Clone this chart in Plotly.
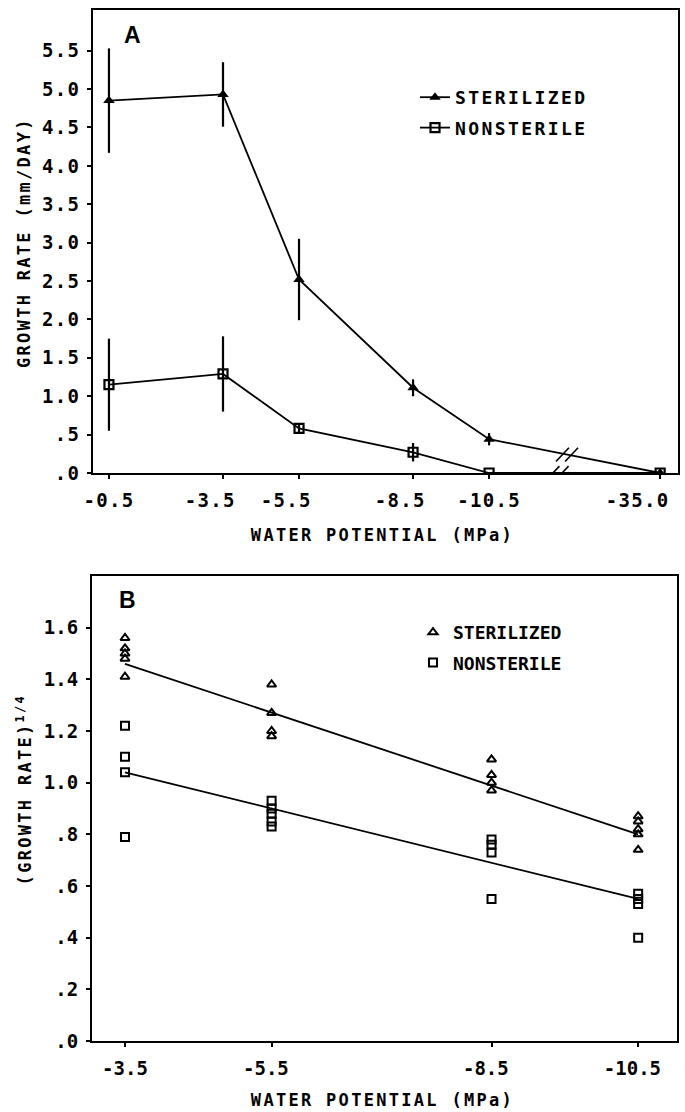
import plotly.graph_objects as go

# ---------------- Panel A data ----------------
wp_labels_A = ["-0.5", "-3.5", "-5.5", "-8.5", "-10.5", "-35.0"]
wp_values_A = [-0.5, -3.5, -5.5, -8.5, -10.5, -35.0]
ster_A = [4.85, 4.93, 2.52, 1.11, 0.44, 0.0]
ster_A_err = [0.68, 0.42, 0.53, 0.11, 0.08, 0.0]
non_A = [1.15, 1.29, 0.58, 0.27, 0.0, 0.0]
non_A_err = [0.60, 0.49, 0.05, 0.12, 0.0, 0.0]
BREAK_POS = 15.0  # broken axis position used for -35.0


def axis_pos(v):
    return abs(v) if abs(v) <= 10.5 else BREAK_POS


pos_A = [axis_pos(v) for v in wp_values_A]

# ---------------- Panel B data ----------------
ster_B_x = [-3.5] * 5 + [-5.5] * 4 + [-8.5] * 4 + [-10.5] * 5
ster_B_y = [1.56, 1.52, 1.50, 1.48, 1.41,
            1.38, 1.27, 1.20, 1.18,
            1.09, 1.03, 1.00, 0.97,
            0.87, 0.85, 0.82, 0.80, 0.74]
non_B_x = [-3.5] * 4 + [-5.5] * 5 + [-8.5] * 4 + [-10.5] * 4
non_B_y = [1.22, 1.10, 1.04, 0.79,
           0.93, 0.90, 0.88, 0.85, 0.83,
           0.78, 0.76, 0.73, 0.55,
           0.57, 0.55, 0.53, 0.40]
fit_x = [-3.5, -10.5]
ster_fit = [1.46, 0.80]
non_fit = [1.04, 0.55]
wp_ticks_B = [-3.5, -5.5, -8.5, -10.5]
wp_labels_B = ["-3.5", "-5.5", "-8.5", "-10.5"]

W, H = 685, 1112
FONT = "DejaVu Sans Mono"
TICKFONT = dict(family=FONT, size=19, color="black", weight="bold")
NB = "\u00a0"
# plotter labels sit slightly left of their ticks
pad_A = [0, 2, 2, 2, 0, 0]
pad_B = [0, 1, 1, 1]
ticktext_A = [t + NB * p for t, p in zip(wp_labels_A, pad_A)]
ticktext_A[-1] = ""  # last label (right edge) drawn as an annotation below
ticktext_B = [t + NB * p for t, p in zip(wp_labels_B, pad_B)]

fig = go.Figure()

# Panel A traces
fig.add_trace(go.Scatter(
    x=pos_A, y=ster_A, mode="lines+markers", name="STERILIZED",
    line=dict(color="black", width=1.8),
    marker=dict(symbol="triangle-up", size=10, color="black"),
    error_y=dict(type="data", array=ster_A_err, color="black", thickness=2.2, width=0),
    xaxis="x", yaxis="y", legend="legend", legendgroup="a1"))
fig.add_trace(go.Scatter(
    x=pos_A, y=non_A, mode="lines+markers", name="NONSTERILE",
    line=dict(color="black", width=1.8),
    marker=dict(symbol="square-open", size=9, color="black", line=dict(width=2.2)),
    error_y=dict(type="data", array=non_A_err, color="black", thickness=2.2, width=0),
    xaxis="x", yaxis="y", legend="legend", legendgroup="a2"))

# Panel B traces
fig.add_trace(go.Scatter(
    x=ster_B_x, y=ster_B_y, mode="markers", name="STERILIZED",
    marker=dict(symbol="triangle-up-open", size=8, color="black", line=dict(width=2)),
    xaxis="x2", yaxis="y2", legend="legend2", legendgroup="b1"))
fig.add_trace(go.Scatter(
    x=non_B_x, y=non_B_y, mode="markers", name="NONSTERILE",
    marker=dict(symbol="square-open", size=8, color="black", line=dict(width=2)),
    xaxis="x2", yaxis="y2", legend="legend2", legendgroup="b2"))
fig.add_trace(go.Scatter(
    x=fit_x, y=ster_fit, mode="lines", line=dict(color="black", width=1.8),
    showlegend=False, xaxis="x2", yaxis="y2"))
fig.add_trace(go.Scatter(
    x=fit_x, y=non_fit, mode="lines", line=dict(color="black", width=1.8),
    showlegend=False, xaxis="x2", yaxis="y2"))

axis_common = dict(showline=True, linecolor="black", linewidth=2, mirror=True,
                   ticks="outside", ticklen=4, tickwidth=2, tickcolor="black",
                   showgrid=False, zeroline=False, tickfont=TICKFONT,
                   automargin=False, ticklabeloverflow="allow")

LEGFONT = dict(family=FONT, size=18, color="black", weight="bold")

fig.update_layout(
    width=W, height=H, margin=dict(l=0, r=0, t=0, b=0),
    paper_bgcolor="white", plot_bgcolor="white",
    xaxis=dict(domain=[93 / W, 678 / W], anchor="y", range=[0.08, 15.47],
               tickvals=pos_A, ticktext=ticktext_A, ticklabelstandoff=5, **axis_common),
    yaxis=dict(domain=[1 - 473 / H, 1 - 10 / H], anchor="x", range=[0, 6.03],
               tickvals=[i * 0.5 for i in range(12)],
               ticktext=[".0", ".5", "1.0", "1.5", "2.0", "2.5", "3.0", "3.5",
                         "4.0", "4.5", "5.0", "5.5"], ticklabelstandoff=3, **axis_common),
    xaxis2=dict(domain=[92 / W, 677 / W], anchor="y2", range=[-3.05, -11.03],
                tickvals=wp_ticks_B, ticktext=ticktext_B, ticklabelstandoff=5, **axis_common),
    yaxis2=dict(domain=[1 - 1041 / H, 1 - 576 / H], anchor="x2", range=[0, 1.8],
                tickvals=[i * 0.2 for i in range(9)],
                ticktext=[".0", ".2", ".4", ".6", ".8", "1.0", "1.2", "1.4", "1.6"],
                ticklabelstandoff=4, **axis_common),
    legend=dict(x=415 / W, y=1 - 79 / H, xanchor="left", yanchor="top",
                font=LEGFONT, itemwidth=30,
                tracegroupgap=4, bgcolor="rgba(0,0,0,0)"),
    legend2=dict(x=413 / W, y=1 - 614 / H, xanchor="left", yanchor="top",
                 font=LEGFONT, itemwidth=30,
                 tracegroupgap=4, bgcolor="rgba(0,0,0,0)"),
)

TFONT = dict(family=FONT, size=17, color="black", weight="bold")
ann = [
    dict(text="A", x=132 / W, y=1 - 35 / H, font=dict(family="Liberation Sans", size=23, color="black", weight="bold")),
    dict(text="B", x=127 / W, y=1 - 600 / H, font=dict(family="Liberation Sans", size=23, color="black", weight="bold")),
    dict(text="WATER POTENTIAL (MPa)", x=382 / W, y=1 - 535 / H, font=TFONT),
    dict(text="WATER POTENTIAL (MPa)", x=382 / W, y=1 - 1100 / H, font=TFONT),
    dict(text="GROWTH RATE (mm/DAY)", x=24 / W, y=1 - 243 / H, textangle=-90, font=TFONT),
    dict(text="(GROWTH RATE)<sup>1/4</sup>", x=24 / W, y=1 - 790 / H, textangle=-90, font=TFONT),
]
for a in ann:
    fig.add_annotation(xref="paper", yref="paper", showarrow=False, xanchor="center", yanchor="middle", **a)

# right-most tick label of panel A (sits left of its tick, near the figure edge)
fig.add_annotation(xref="paper", yref="paper", showarrow=False, xanchor="right", yanchor="middle",
                   x=668 / W, y=1 - 500 / H, text=wp_labels_A[-1], font=TICKFONT)


# Axis-break marks (double slashes) on panel A
def slash_pair(xc, yc):
    dx, dy = 0.17, 0.09
    for off in (-0.12, 0.12):
        fig.add_shape(type="line", xref="x", yref="y",
                      x0=xc + off - dx, y0=yc - dy, x1=xc + off + dx, y1=yc + dy,
                      line=dict(color="black", width=1.6))


line_y_at_break = ster_A[4] + (ster_A[5] - ster_A[4]) * (12.55 - pos_A[4]) / (pos_A[5] - pos_A[4])
slash_pair(12.55, line_y_at_break)
slash_pair(12.3, 0.0)

post = """
document.body.style.margin = '0';
document.body.style.padding = '0';
var gd = document.getElementById('{plot_id}');
function ls(){
  gd.querySelectorAll('.xtick text, .ytick text').forEach(function(e){e.style.letterSpacing='1.3px';});
  gd.querySelectorAll('.annotation-text').forEach(function(e){
    var t = e.textContent;
    if (t.length > 6) e.style.letterSpacing='2.3px';
    else if (t.length > 2) e.style.letterSpacing='1.3px';
  });
  gd.querySelectorAll('.legendtext').forEach(function(e){e.style.letterSpacing='2.4px';});
  gd.querySelectorAll('.legend .scrollbox').forEach(function(e){e.removeAttribute('clip-path');});
}
ls();
gd.on('plotly_afterplot', ls);
"""

fig.write_html("out.html", post_script=post, config={"displayModeBar": False})
